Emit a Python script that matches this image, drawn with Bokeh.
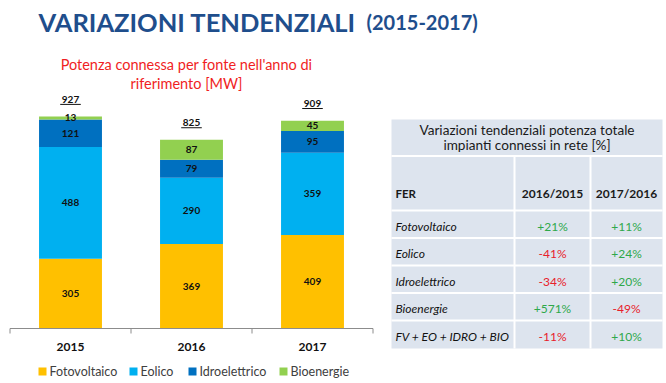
from bokeh.plotting import figure
from bokeh.models import Range1d
from bokeh.embed import file_html
from bokeh.resources import INLINE
from bokeh.core.properties import value

# ---------------- data ----------------
years = [2015, 2016, 2017]
fotovoltaico = [305, 369, 409]
eolico = [488, 290, 359]
idroelettrico = [121, 79, 95]
bioenergie = [13, 87, 45]
totals = [927, 825, 909]
series_names = ["Fotovoltaico", "Eolico", "Idroelettrico", "Bioenergie"]
series_colors = ["#FFC000", "#00B0F0", "#0070C0", "#92D050"]

fer_rows = ["Fotovoltaico", "Eolico", "Idroelettrico", "Bioenergie", "FV + EO + IDRO + BIO"]
col_headers = ["2016/2015", "2017/2016"]
var_2016_2015 = [21, -41, -34, 571, -11]
var_2017_2016 = [11, 24, 20, -49, 10]

title_main = "VARIAZIONI TENDENZIALI"
title_years = "(2015-2017)"
chart_title = ["Potenza connessa per fonte nell'anno di", "riferimento [MW]"]
table_title = ["Variazioni tendenziali potenza totale", "impianti connessi in rete [%]"]

# ---------------- layout ----------------
W, H = 666, 383
FONT = value("Lato")
PX = 0.2288          # pixels per MW
BASE = 328           # baseline (px from top)
X0 = 70              # centre of first category (px)
STEP = 121           # category spacing (px)

p = figure(width=W, height=H, output_backend="svg", toolbar_location=None,
           x_axis_type=None, y_axis_type=None,
           x_range=Range1d(0, W), y_range=Range1d(H, 0),
           min_border=0, min_border_left=0, min_border_right=0,
           min_border_top=0, min_border_bottom=0)
p.outline_line_color = None
p.background_fill_color = "white"
p.border_fill_color = "white"

p.extra_x_ranges = {"yr": Range1d(years[0] + (0 - X0) / STEP, years[0] + (W - X0) / STEP)}
p.extra_y_ranges = {"mw": Range1d(-(H - BASE) / PX, BASE / PX)}

# ---------------- stacked bars ----------------
series = [fotovoltaico, eolico, idroelettrico, bioenergie]
bottoms = [0] * len(years)
for vals, col in zip(series, series_colors):
    tops = [b + v for b, v in zip(bottoms, vals)]
    p.vbar(x=years, bottom=bottoms, top=tops, width=0.52, color=col, line_color=None,
           x_range_name="yr", y_range_name="mw")
    mids = [(b + t) / 2 for b, t in zip(bottoms, tops)]
    p.text(x=years, y=mids, text=[str(v) for v in vals], text_font=FONT,
           text_font_size="10px", text_font_style="bold", text_color="#111111",
           text_align="center", text_baseline="middle",
           x_range_name="yr", y_range_name="mw")
    bottoms = tops

# totals with underline
p.text(x=years, y=[t + 17 / PX for t in totals], text=[str(t) for t in totals],
       text_font=FONT, text_font_size="10px", text_font_style="bold", text_color="#111111",
       text_align="center", text_baseline="middle", x_range_name="yr", y_range_name="mw")
p.segment(x0=[y - 0.085 for y in years], x1=[y + 0.085 for y in years],
          y0=[t + 12 / PX for t in totals], y1=[t + 12 / PX for t in totals],
          line_color="#111111", line_width=1, x_range_name="yr", y_range_name="mw")

# category axis
p.segment(x0=[years[0] - 0.5], x1=[years[-1] + 0.5], y0=[0], y1=[0],
          line_color="#8C8C8C", line_width=1, x_range_name="yr", y_range_name="mw")
tick_x = [years[0] - 0.5 + i for i in range(len(years) + 1)]
p.segment(x0=tick_x, x1=tick_x, y0=[0] * len(tick_x), y1=[-5 / PX] * len(tick_x),
          line_color="#8C8C8C", line_width=1, x_range_name="yr", y_range_name="mw")
p.text(x=years, y=[346] * len(years), text=[str(y) for y in years], text_font=FONT,
       text_font_size="12px", text_font_style="bold", text_color="#111111",
       text_align="center", text_baseline="middle", x_range_name="yr")

# legend
leg_x = [38, 129, 188, 279]
p.rect(x=[lx + 4 for lx in leg_x], y=[371] * 4, width=8, height=8,
       color=series_colors, line_color=None)
p.text(x=[lx + 11 for lx in leg_x], y=[371] * 4, text=series_names, text_font=FONT,
       text_font_size="12.5px", text_color="#404040", text_align="left", text_baseline="middle")

# titles
p.text(x=[38], y=[21], text=[title_main], text_font=FONT, text_font_size="25.5px",
       text_font_style="bold", text_color="#1F4E8C", text_align="left", text_baseline="alphabetic")
p.text(x=[366], y=[21], text=[title_years], text_font=FONT, text_font_size="20px",
       text_font_style="bold", text_color="#1F4E8C", text_align="left", text_baseline="alphabetic")
p.text(x=[186, 186], y=[64, 83], text=chart_title, text_font=FONT, text_font_size="14.5px",
       text_color="#F01E23", text_align="center", text_baseline="middle")

# ---------------- table ----------------
TL, TR = 391, 662
row_edges = [119, 155.5, 210, 237.5, 265, 292.5, 320, 348]
col_edges = [TL, 514, 590, TR]
p.quad(left=[TL], right=[TR], top=[row_edges[0]], bottom=[row_edges[-1]],
       fill_color="#DDE4EE", line_color=None)
hy = row_edges[1:-1]
p.segment(x0=[TL] * len(hy), x1=[TR] * len(hy), y0=hy, y1=hy, line_color="white", line_width=2)
p.segment(x0=col_edges[1:3], x1=col_edges[1:3], y0=[row_edges[1]] * 2, y1=[row_edges[-1]] * 2,
          line_color="white", line_width=2)

tcx = (TL + TR) / 2
p.text(x=[tcx, tcx], y=[129, 144], text=table_title, text_font=FONT, text_font_size="13.6px",
       text_color="#1A1A1A", text_align="center", text_baseline="middle")
c1 = (col_edges[1] + col_edges[2]) / 2
c2 = (col_edges[2] + col_edges[3]) / 2
p.text(x=[395], y=[193], text=["FER"], text_font=FONT, text_font_size="11.5px",
       text_font_style="bold", text_color="#1A1A1A", text_align="left", text_baseline="middle")
p.text(x=[c1, c2], y=[193, 193], text=col_headers, text_font=FONT, text_font_size="12px",
       text_font_style="bold", text_color="#1A1A1A", text_align="center", text_baseline="middle")

row_y = [(row_edges[i] + row_edges[i + 1]) / 2 + 2 for i in range(2, 7)]
p.text(x=[395] * len(fer_rows), y=row_y, text=fer_rows, text_font=FONT, text_font_size="12px",
       text_font_style="italic", text_color="#111111", text_align="left", text_baseline="middle")

def fmt(v):
    return ("+%d%%" % v) if v > 0 else ("%d%%" % v)

def colr(v):
    return "#2EA84A" if v > 0 else "#E8202A"

for cx, vals in ((c1, var_2016_2015), (c2, var_2017_2016)):
    p.text(x=[cx] * len(vals), y=row_y, text=[fmt(v) for v in vals], text_font=FONT,
           text_font_size="12px", text_color=[colr(v) for v in vals],
           text_align="center", text_baseline="middle")

open("out.html", "w").write(file_html(p, INLINE))
